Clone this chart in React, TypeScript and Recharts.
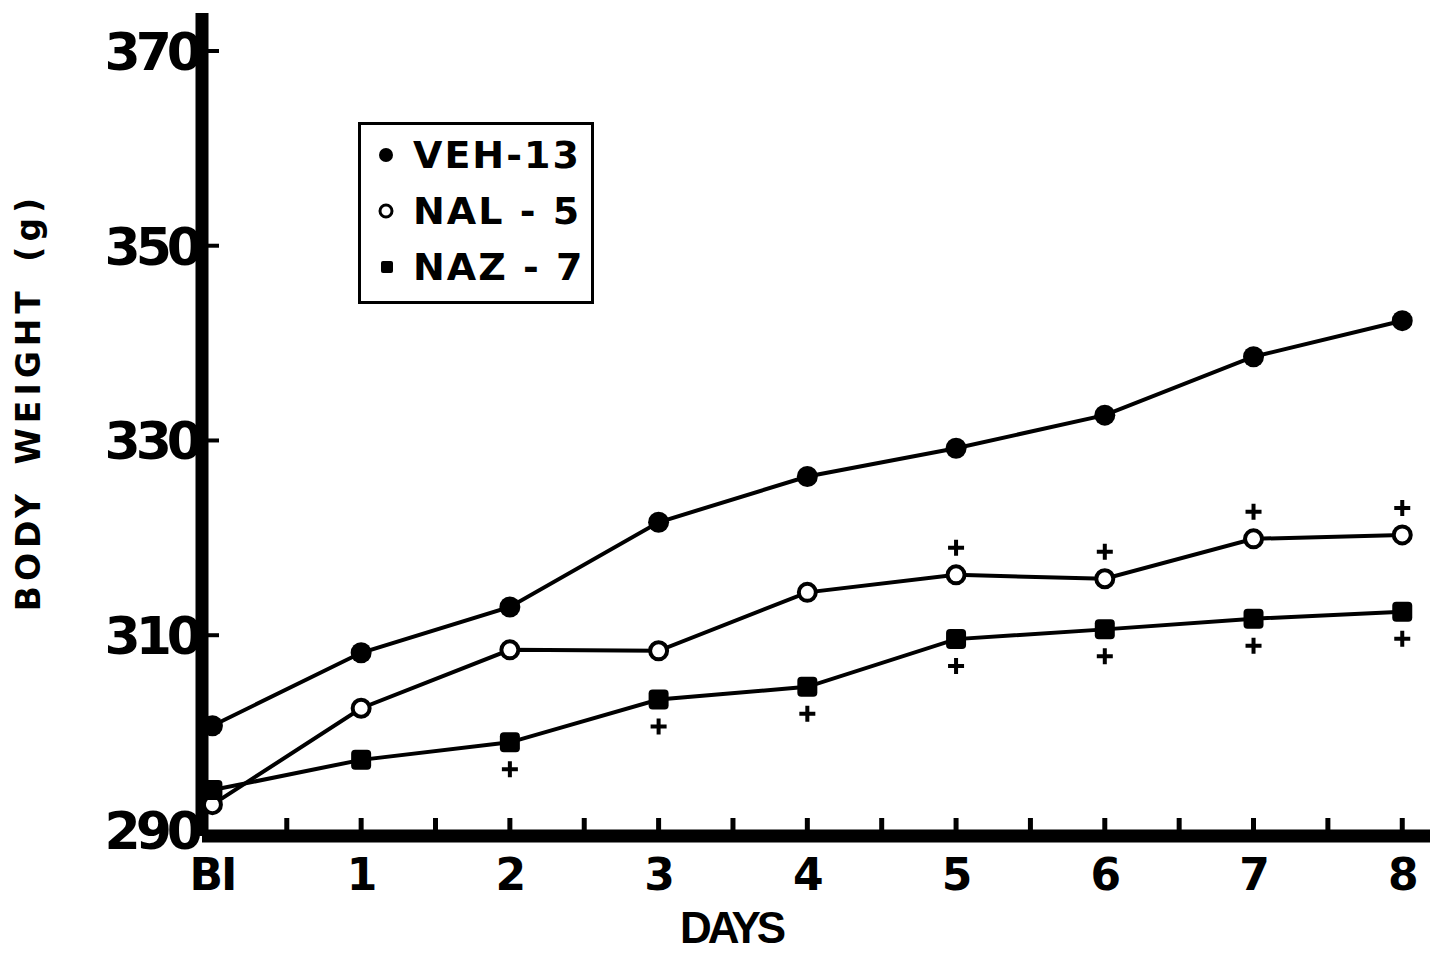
import React from 'react';
import { LineChart, Line, XAxis, YAxis, Legend } from 'recharts';

const days = [0, 1, 2, 3, 4, 5, 6, 7, 8];
const dayLabels = ['BI', '1', '2', '3', '4', '5', '6', '7', '8'];
const veh = [300.7, 308.2, 312.9, 321.6, 326.3, 329.2, 332.6, 338.6, 342.3];
const nal = [292.6, 302.5, 308.5, 308.4, 314.4, 316.2, 315.8, 319.9, 320.3];
const naz = [294.1, 297.2, 299.0, 303.4, 304.7, 309.6, 310.6, 311.7, 312.4];
// "+" marks (significance) above NAL, below NAZ
const nalSig = [false, false, false, false, false, true, true, true, true];
const nazSig = [false, false, true, true, true, true, true, true, true];
const xTicks = [0, 0.5, 1, 1.5, 2, 2.5, 3, 3.5, 4, 4.5, 5, 5.5, 6, 6.5, 7, 7.5, 8];
const yTicks = [290, 310, 330, 350, 370];

const data = days.map((d, i) => ({ day: d, veh: veh[i], nal: nal[i], naz: naz[i] }));

const FONT = '"DejaVu Sans", sans-serif';

const Plus = ({ x, y }: { x: number; y: number }) => (
  <path d={`M${x - 8},${y} H${x + 8} M${x},${y - 8} V${y + 8}`} stroke="#000" strokeWidth={4} />
);

const VehDot = (props: any) => {
  const { cx, cy, index } = props;
  return <circle key={`veh-${index}`} cx={cx} cy={cy} r={10.5} fill="#000" />;
};

const NalDot = (props: any) => {
  const { cx, cy, index } = props;
  return (
    <g key={`nal-${index}`}>
      <circle cx={cx} cy={cy} r={8.5} fill="#fff" stroke="#000" strokeWidth={4} />
      {nalSig[index] && <Plus x={cx} y={cy - 27} />}
    </g>
  );
};

const NazDot = (props: any) => {
  const { cx, cy, index } = props;
  return (
    <g key={`naz-${index}`}>
      <rect x={cx - 10} y={cy - 10} width={20} height={20} rx={4} fill="#000" />
      {nazSig[index] && <Plus x={cx} y={cy + 27} />}
    </g>
  );
};

const XTick = (props: any) => {
  const { x, y, payload } = props;
  const v = payload.value;
  const isDay = Number.isInteger(v);
  return (
    <g>
      {v !== 0 && <line x1={x} x2={x} y1={y - 5} y2={y - 18} stroke="#000" strokeWidth={5} />}
      {isDay && (
        <text x={x} y={y + 54} textAnchor="middle" fontFamily={FONT} fontWeight="bold" fontSize={44} letterSpacing={-2} fill="#000">
          {dayLabels[v]}
        </text>
      )}
    </g>
  );
};

const YTick = (props: any) => {
  const { x, y, payload } = props;
  const v = payload.value;
  return (
    <g>
      {v !== 290 && <line x1={x} x2={x + 17} y1={y} y2={y} stroke="#000" strokeWidth={4} />}
      <text x={x - 4} y={y + 19} textAnchor="end" fontFamily={FONT} fontWeight="bold" fontSize={52} letterSpacing={-5} fill="#000">
        {v}
      </text>
    </g>
  );
};

const legendItems = [
  { label: 'VEH-13', marker: 'filled' },
  { label: 'NAL - 5', marker: 'open' },
  { label: 'NAZ - 7', marker: 'square' },
];

const LegendBox = () => (
  <div
    style={{
      width: 236,
      height: 182,
      border: '3px solid #000',
      boxSizing: 'border-box',
      background: '#fff',
      position: 'relative',
    }}
  >
    {legendItems.map((it, i) => (
      <div
        key={it.label}
        style={{
          position: 'absolute',
          left: 12,
          top: 8 + i * 56,
          height: 44,
          display: 'flex',
          alignItems: 'center',
        }}
      >
        <svg width={30} height={30} style={{ marginRight: 10 }}>
          {it.marker === 'filled' && <circle cx={13} cy={15} r={7} fill="#000" />}
          {it.marker === 'open' && <circle cx={13} cy={15} r={6} fill="#fff" stroke="#000" strokeWidth={3} />}
          {it.marker === 'square' && <rect x={8} y={9} width={12} height={12} rx={2} fill="#000" />}
        </svg>
        <span style={{ fontFamily: FONT, fontWeight: 'bold', fontSize: 38, letterSpacing: 2, lineHeight: '44px' }}>
          {it.label}
        </span>
      </div>
    ))}
  </div>
);

export default function App() {
  return (
    <div style={{ margin: -8, width: 1438, height: 955, background: '#fff', position: 'relative' }}>
      <LineChart width={1438} height={955} data={data} margin={{ top: 13, right: 6, left: 0, bottom: 59 }}>
        <XAxis
          dataKey="day"
          type="number"
          domain={[-0.07, 8.2]}
          ticks={xTicks}
          interval={0}
          height={60}
          allowDataOverflow
          axisLine={{ stroke: '#000', strokeWidth: 13 }}
          tickLine={false}
          tickSize={0}
          tickMargin={0}
          tick={<XTick />}
          label={{
            content: () => (
              <text x={731} y={943} textAnchor="middle" fontFamily='"Liberation Sans", Arial, sans-serif' fontWeight="bold" fontSize={44} letterSpacing={-4} fill="#000">
                DAYS
              </text>
            ),
          }}
        />
        <YAxis
          type="number"
          domain={[289.38, 373.9]}
          ticks={yTicks}
          interval={0}
          width={202}
          allowDataOverflow
          axisLine={{ stroke: '#000', strokeWidth: 13 }}
          tickLine={false}
          tickSize={0}
          tickMargin={0}
          tick={<YTick />}
          label={{
            content: () => (
              <text x={40} y={402} transform="rotate(-90 40 402)" textAnchor="middle" fontFamily={FONT} fontWeight="bold" fontSize={33} letterSpacing={5} wordSpacing={8} fill="#000">
                BODY WEIGHT (g)
              </text>
            ),
          }}
        />
        <Legend
          verticalAlign="middle"
          align="center"
          content={() => <LegendBox />}
          wrapperStyle={{ position: 'absolute', left: 358, top: 122, width: 236, height: 182 }}
        />
        <Line dataKey="veh" name="VEH-13" stroke="#000" strokeWidth={4} dot={VehDot} isAnimationActive={false} />
        <Line dataKey="nal" name="NAL-5" stroke="#000" strokeWidth={4} dot={NalDot} isAnimationActive={false} />
        <Line dataKey="naz" name="NAZ-7" stroke="#000" strokeWidth={4} dot={NazDot} isAnimationActive={false} />
      </LineChart>
    </div>
  );
}
